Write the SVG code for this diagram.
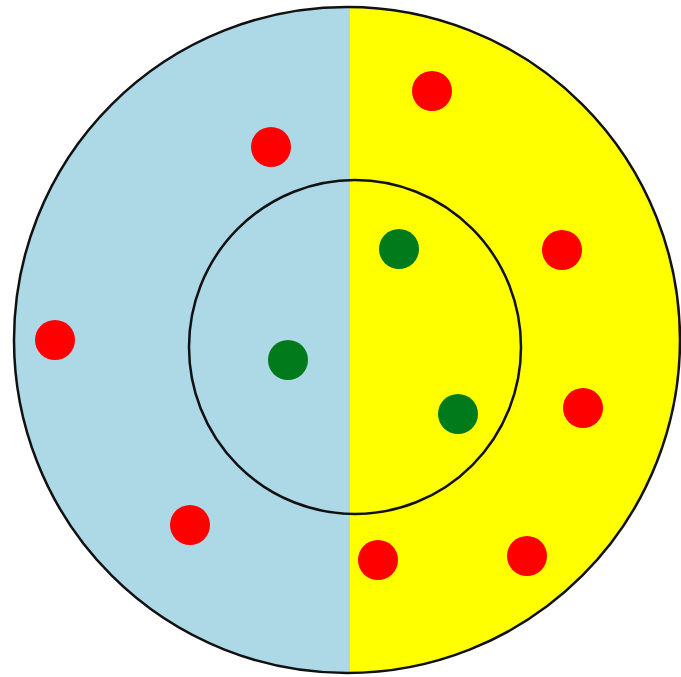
<svg xmlns="http://www.w3.org/2000/svg" width="681" height="677" viewBox="0 0 681 677">
<style>
.ring{fill:none;stroke:#111;stroke-width:2.5}
.red{fill:#ff0000}
.green{fill:#007a1a}
</style>
<defs>
<clipPath id="outerClip"><circle cx="347" cy="340" r="333"/></clipPath>
</defs>
<rect width="681" height="677" fill="#ffffff"/>
<g id="outer-region" clip-path="url(#outerClip)">
<rect x="0" y="0" width="350" height="677" fill="#add8e6"/>
<rect x="350" y="0" width="331" height="677" fill="#ffff00"/>
</g>
<g id="outer-circle"><circle class="ring" cx="347" cy="340" r="333"/></g>
<g id="inner-circle"><ellipse class="ring" cx="355" cy="347" rx="166" ry="167"/></g>
<g id="red-dots">
<circle class="red" cx="432" cy="91" r="20"/>
<circle class="red" cx="271" cy="147" r="20"/>
<circle class="red" cx="562" cy="250" r="20"/>
<circle class="red" cx="55" cy="340" r="20"/>
<circle class="red" cx="583" cy="408" r="20"/>
<circle class="red" cx="190" cy="525" r="20"/>
<circle class="red" cx="378" cy="560" r="20"/>
<circle class="red" cx="527" cy="556" r="20"/>
</g>
<g id="green-dots">
<circle class="green" cx="399" cy="249" r="20"/>
<circle class="green" cx="288" cy="360" r="20"/>
<circle class="green" cx="458" cy="414" r="20"/>
</g>
</svg>
